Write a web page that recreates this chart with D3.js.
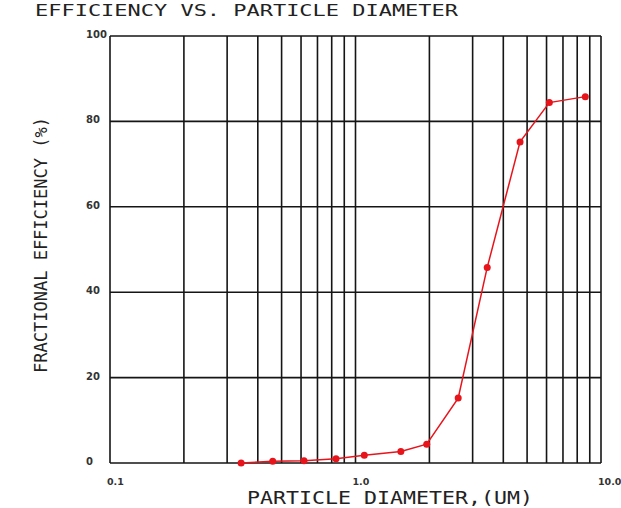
<!DOCTYPE html>
<html>
<head>
<meta charset="utf-8">
<script src="https://cdn.jsdelivr.net/npm/d3@7"></script>
<style>
  body { margin: 0; background: #fff; }
  svg { display: block; }
</style>
</head>
<body>
<div id="chart"></div>
<script>
// data
var diameters = [0.342, 0.46, 0.617, 0.833, 1.086, 1.53, 1.95, 2.62, 3.44, 4.68, 6.16, 8.63];
var efficiency = [0, 0.4, 0.5, 1.0, 1.8, 2.7, 4.4, 15.2, 45.8, 75.2, 84.4, 85.8];
var yTicks = [0, 20, 40, 60, 80, 100];
var xTickLabels = ["0.1", "1.0", "10.0"];
var xGrid = [0.1, 0.2, 0.3, 0.4, 0.5, 0.6, 0.7, 0.8, 0.9, 1, 2, 3, 4, 5, 6, 7, 8, 9, 10];

var width = 621, height = 508;
var margin = { top: 36, right: 20, bottom: 45, left: 110 };
var plotW = width - margin.left - margin.right;   // 491
var plotH = height - margin.top - margin.bottom;  // 427

var svg = d3.select("#chart").append("svg")
  .attr("width", width)
  .attr("height", height);

var x = d3.scaleLog().domain([0.1, 10]).range([margin.left, margin.left + plotW]);
var y = d3.scaleLinear().domain([0, 100]).range([margin.top + plotH, margin.top]);

var stroke = "#151515";
var labelFont = "'DejaVu Sans Mono', monospace";

// title
svg.append("text")
  .attr("x", 35).attr("y", 16)
  .attr("textLength", 423).attr("lengthAdjust", "spacingAndGlyphs")
  .style("font-family", labelFont).style("font-size", "16px")
  .attr("fill", "#222")
  .text("EFFICIENCY VS. PARTICLE DIAMETER");

// grid
var g = svg.append("g");
g.selectAll("line.v").data(xGrid).enter().append("line")
  .attr("class", "v")
  .attr("x1", function(d) { return x(d); })
  .attr("x2", function(d) { return x(d); })
  .attr("y1", y(100)).attr("y2", y(0))
  .attr("stroke", stroke).attr("stroke-width", 1.6);

g.selectAll("line.h").data(yTicks).enter().append("line")
  .attr("class", "h")
  .attr("x1", x(0.1)).attr("x2", x(10))
  .attr("y1", function(d) { return y(d); })
  .attr("y2", function(d) { return y(d); })
  .attr("stroke", stroke).attr("stroke-width", 1.6);

// y tick labels
svg.selectAll("text.ytick").data(yTicks).enter().append("text")
  .attr("class", "ytick")
  .attr("x", 86)
  .attr("y", function(d) { return y(d) + 2; })
  .style("font-family", "'DejaVu Sans', sans-serif")
  .style("font-size", "10px").style("font-weight", "bold")
  .attr("fill", "#333")
  .text(function(d) { return d; });

// x tick labels
svg.selectAll("text.xtick").data(xTickLabels).enter().append("text")
  .attr("class", "xtick")
  .attr("x", function(d) { return x(+d) - 3; })
  .attr("y", 485)
  .style("font-family", "'DejaVu Sans', sans-serif")
  .style("font-size", "9.5px").style("font-weight", "bold")
  .attr("fill", "#333")
  .text(function(d) { return d; });

// axis titles
svg.append("text")
  .attr("x", 247).attr("y", 504)
  .attr("textLength", 286).attr("lengthAdjust", "spacingAndGlyphs")
  .style("font-family", labelFont).style("font-size", "17px")
  .attr("fill", "#222")
  .text("PARTICLE DIAMETER,(UM)");

svg.append("text")
  .attr("transform", "translate(47,373) rotate(-90)")
  .attr("textLength", 256).attr("lengthAdjust", "spacingAndGlyphs")
  .style("font-family", labelFont).style("font-size", "17px")
  .attr("fill", "#222")
  .text("FRACTIONAL EFFICIENCY (%)");

// efficiency curve
var pts = diameters.map(function(d, i) { return [d, efficiency[i]]; });

var line = d3.line()
  .x(function(d) { return x(d[0]); })
  .y(function(d) { return y(d[1]); });

svg.append("path")
  .datum(pts)
  .attr("d", line)
  .attr("fill", "none")
  .attr("stroke", "#e8141c")
  .attr("stroke-width", 1.5);

svg.selectAll("circle.pt").data(pts).enter().append("circle")
  .attr("class", "pt")
  .attr("cx", function(d) { return x(d[0]); })
  .attr("cy", function(d) { return y(d[1]); })
  .attr("r", 3.5)
  .attr("fill", "#e8141c");
</script>
</body>
</html>
